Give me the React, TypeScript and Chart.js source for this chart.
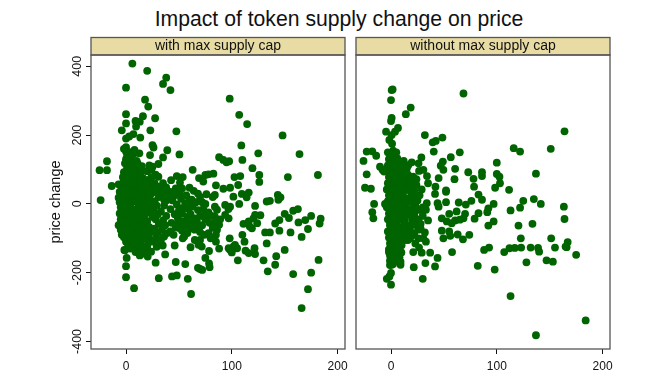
import React, { useEffect, useRef } from "react";
import { Chart, registerables } from "chart.js";

Chart.register(...registerables);

const chartTitle = "Impact of token supply change on price";
const panelTitles = ["with max supply cap", "without max supply cap"];
const yAxisTitle = "price change";
const xTicks = [0, 100, 200];
const yTicks = [-400, -200, 0, 200, 400];
const xRange = [-33.1, 207];
const yRange = [-422, 433];

const withCapPoints: [number, number][] = [
  [6,408],[20,387],[38,367],[35,349],[42,331],[0,338],[18,303],[21,283],[98,306],[107,259],[114.5,232],[148,199],
  [0,261],[16,255],[27.5,249],[0,234],[9,241],[13,239],[9.5,225],[-4,214],[23,214],[47.6,211],[7,203],[3,196],[0,190],[13.5,193],
  [25,171],[26,164],[109,170],[39,156],[0,165],[8,157],[0,152],[4,150],[12.6,147],[22.7,142],[50.5,144],[125,147],[164,145],
  [35,135],[88,136],[92,128],[95,121],[97.5,124],[110,128],[-18,124],[-25,98],[-18,98],[119.5,104],[30.6,116],[22,112],[25,108],
  [63,99],[69,75],[126,84],[153,78],[181.4,84],[126,64],[82.6,88],[78,86],[75,84],[73,65],[85,54],[108,81],[102.5,78],[106,55],
  [53.6,78],[48,81],[42.6,69],[51,62],[30.6,79],[13,96],[8.5,94],[-13.5,52],[-7,57],[60,47],[92,44],[98.4,47],
  [-24,11],[166,-303],[172,-248],[175,-200],[158,-204],[182,-163],[134,-196],[141,-177],[142,-152],[150,-134],[130,-164],[133,-115],
  [166,-96],[172,-73],[155.5,-83],[145,-78],[131.5,-83],[136,-83],[183,-57],[184,-43],[175,-35],[169.4,-47],[163,-54],[154,-41],[150,-29],
  [158,-20],[162.5,-15],[141,-57],[145,-47],[127,-33],[122,-6],[133,7],[136,9],[143.5,26],[146,19],[144,12],[107,0],[101.5,21],[109.5,29],[116,33],[114,19],
  [111,-58],[116,-51],[120.5,-42],[122,-32],[124,-56],[119,-71],[117,-66],[110,-90],[112,-110],[121.5,-129],[122,-146],[116,-143],[113,-136],[105.7,-164],
  [98,-100],[97,-129],[101.5,-124],[105,-129],[100,-141],[98.5,-134],[103,-119],[88,-130],[85,-110],[78.5,-137],[75,-157],[78.5,-173],[79,-184],
  [70,-189],[72,-192],[68,-186],[61.5,-262],[58.4,-218],[43.5,-211],[48,-208],[31,-216],[7.6,-245],[0,-213],[0,-181],[0.6,-157],[28,-171],[37,-147],[47,-169],[56,-175],
  [46,-121],[53.6,-100],[61,-126],[68.5,-119],[70,-105],[65,-105],[71.6,-124],[74,-90],[84,26],[93.7,-3],[98.4,-8],[96.8,-15],[86,-17],[89,-45],[97,-42],[93.7,-32],[84,-37],[86,-75],[88,-61],
  [34.7,-121],[20.5,-153],[23.7,-139],[17.3,-143],[6.3,-129],[-1.6,-134],[-6.3,-61],
  [-6,35],[-7,18],[-6,5],[-5,-10],[-6,-28],[-5,-45],[-7,-62],[-5,-75],[-4,-90],
  [0,130],[-1,118],[1,105],[-2,92],[0,80],[2,68],[-1,55],[1,42],[-2,30],[0,18],[2,5],[-1,-8],[1,-20],[-2,-33],[0,-47],[2,-60],[-1,-72],[1,-85],[-2,-97],[0,-110],[2,-122],[-1,-135],
  [5,135],[4,120],[6,108],[3,95],[5,82],[7,70],[4,58],[6,45],[3,33],[5,20],[7,8],[4,-5],[6,-18],[3,-30],[5,-42],[7,-55],[4,-68],[6,-80],[3,-93],[5,-105],[7,-118],[4,-130],
  [10,125],[9,112],[11,100],[8,85],[10,72],[12,60],[9,48],[11,35],[8,22],[10,10],[12,-3],[9,-15],[11,-28],[8,-40],[10,-52],[12,-65],[9,-78],[11,-90],[8,-102],[10,-115],[12,-127],[9,-140],[13,-150],
  [15,110],[14,92],[16,75],[13,62],[15,48],[17,35],[14,20],[16,8],[13,-8],[15,-20],[17,-35],[14,-48],[16,-60],[13,-73],[15,-88],[17,-100],[14,-112],[16,-125],[18,-135],[15,-145],
  [20,95],[24,100],[21,70],[23,55],[20,42],[24,30],[22,15],[19,3],[23,-10],[21,-25],[25,-38],[20,-52],[22,-68],[24,-82],[21,-97],[25,-110],[20,-125],
  [28,85],[27,60],[30,50],[28,35],[31,20],[27,8],[29,-5],[26,-18],[30,-30],[28,-45],[31,-58],[27,-72],[30,-85],[28,-100],[32,-110],[29,-125],
  [35,60],[37,35],[34,22],[38,10],[36,-5],[33,-22],[38,-35],[35,-48],[37,-62],[34,-75],[39,-85],[36,-95],[33,-105],
  [42,35],[46,25],[44,10],[48,-2],[42,-15],[46,-30],[49,-42],[43,-55],[47,-68],[42,-80],[45,-90],[50,-20],[49,-60],
  [53,45],[57,25],[52,15],[56,2],[59,-15],[53,-28],[58,-38],[52,-50],[56,-62],[60,-72],[53,-78],[58,-85],[55,-95],[59,-5],
  [64,38],[68,30],[62,12],[66,5],[70,20],[63,-8],[68,-18],[61,-30],[65,-42],[70,-35],[62,-55],[67,-50],[72,-62],[65,-75],[70,-82],[72,5],
  [76,28],[82,20],[75,0],[73,-15],[78,-25],[84,-8],[81,-35],[75,-45],[79,-55],[85,-50],[82,-70],[78,-85],[85,-90],[80,-100],[83,-65],
  [-3,60],[-4,45],[-3,12],[-3,-18],[-3,-52],[-3,-82],[3,150],[1,142],[-2,160],[7,145],[11,118],[4,102],[-3,78],[-2,42],
  [2,88],[7,92],[13,80],[6,58],[2,30],[8,35],[14,42],[18,58],[18,22],[13,28],[18,5],[2,-10],[7,-28],[18,-12],[12,-42],[18,-45],[3,-52],[8,-66],[18,-72],[14,-85],[2,-78],[7,-92],[19,-88],[13,-102],
  [24,78],[26,45],[22,32],[25,5],[21,-112],[32,40],[36,12],[38,48],[41,20],[47,45],[51,30],[50,-70],[54,-12],[57,-48],[60,10],[61,-62],[68,-68],[74,-35],
];

const withoutCapPoints: [number, number][] = [
  [0.6,331],[1.5,333],[0,302],[68.5,321],[18.6,280],[14,261],[0.6,250],[0,241],[6.6,221],[3.8,210],[-4.7,210],[0.6,200],[-1.6,186],[164,211],
  [32,200],[48.6,193],[39.4,179],[42.3,183],[40.4,152],[65,150],[56.5,136],[116,162],[122,152],[151,160],[-23,152],[-17.7,153],[-14,140],[-26,125],
  [28.7,135],[26,118],[19.6,121],[16.4,113],[15,104],[-10.4,108],[-8,99],[-6.6,94],[-23,86],[49,123],[47,111],[49.5,99],[60.6,102],[100,120],
  [73,92],[86,92],[86,81],[78,73],[60,72],[45,75],[100,87],[102.5,79],[103,60],[98.4,47],[78.5,50],[137,88],[42,50],[35,60],[34,81],[-24.6,47],[-19,44],[52,39],[111.6,41],
  [30.6,99],[26.5,96],[21,79],[15,70],[11.7,79],[41.6,29],[52,35],[82.7,27],[86,12],[-16,0],[-17.7,-24],[-16.7,-42],[-5.7,0],
  [44,2],[45,-8],[52,5],[64,4],[70.7,-2],[76,9],[97,0],[92,-13],[91,-24],[82.7,-27],[79,-43],[68.5,-42],[70,-29],[62,-22],[55,-29],[48,-42],[52.7,-51],[57.4,-56],[60.6,-48],[65,-46],
  [48,-78],[55,-80],[56,-93],[49.5,-100],[63,-89],[68,-103],[74,-90],[92,-63],[97,-51],[113,-19],[122,-11],[125,9],[135,14],[141.6,0],[163.4,-8],[164,-44],[120.5,-63],[133.7,-58],
  [122.7,-100],[151.4,-100],[167,-111],[166,-126],[165,-124],[155,-127],[132,-127],[139,-128],[140,-139],[123,-127],[117,-128],[112,-129],[107,-140],[92.7,-127],[88,-134],[175,-148],
  [147,-164],[153,-168],[128,-170],[82,-180],[98,-191],[57.7,-140],[113,-268],[184,-339],[137,-382],[30,-218],[21.5,-184],[32.5,-172],[41.6,-182],[44,-157],[37,-142],[26.5,-127],[29,-142],
  [-4,-218],[0,-201],[-1.5,-211],[0,-235],[9.8,-141],[9,-168],[9,-177],[0.6,-177],[32,-83],[30.6,-100],[33,-110],[35,-48],[33.8,2],[33,-17],
  [-3,150],[-2,130],[-3,112],[-4,95],[-2,78],[-3,60],[-4,42],[-2,25],[-3,8],[-4,-10],[-2,-28],[-3,-45],[-1,-62],[-3,-80],[-2,-98],[-1,-115],[-2,-132],[-1,-150],[-1,-165],
  [1,175],[2,155],[0,140],[3,122],[1,105],[2,88],[0,72],[3,55],[1,38],[2,20],[0,5],[3,-12],[1,-30],[2,-48],[0,-65],[3,-82],[1,-98],[2,-115],[0,-132],[3,-148],[1,-160],[2,-175],
  [5,150],[6,132],[4,115],[7,98],[5,80],[6,62],[4,45],[7,28],[5,12],[6,-5],[4,-22],[7,-40],[5,-58],[6,-75],[4,-92],[7,-108],[5,-125],[6,-142],[8,-155],[5,-165],
  [10,110],[12,125],[9,90],[11,72],[13,55],[10,38],[12,20],[9,5],[11,-12],[13,-28],[10,-45],[12,-62],[9,-80],[11,-95],[13,-105],[10,-120],
  [16,85],[18,58],[15,45],[19,30],[17,15],[14,0],[18,-15],[16,-32],[20,-48],[15,-62],[18,-78],[14,-88],[20,-92],[16,-105],
  [24,55],[22,38],[27,25],[25,10],[29,42],[23,-5],[28,-18],[22,-30],[26,-45],[30,-35],[24,-62],[28,-72],[22,-85],[28,-58],[30,-10],[26,-100],[23,-115],[21,-140],
  [0,118],[2,128],[-1,100],[3,70],[-1,50],[1,30],[-1,12],[4,2],[1,-5],[-1,-20],[4,-35],[-1,-52],[4,-70],[-1,-88],[4,-105],[1,-122],[-2,-140],[4,-150],[1,-170],[-1,-178],
  [7,115],[8,72],[8,50],[3,40],[8,18],[8,-12],[9,-30],[3,-58],[8,-70],[9,-90],[8,-112],[3,-125],[7,-130],[2,-140],[6,-160],[9,100],[12,88],[13,40],[6,40],[13,10],[14,-15],[13,-45],[12,-75],
  [20,62],[24,72],[18,40],[22,22],[20,5],[24,-18],[20,-35],[19,-62],[26,-75],[18,-100],
];

const FONT = '"Liberation Sans", Arial, sans-serif';
const GREEN = "#006400";
const STRIP = "#E8DCA4";
const FRAME = "#555555";
const STRIP_TOP = 37.5;

const framePlugin = {
  id: "panelFrame",
  beforeDraw(chart: any) {
    const { ctx, chartArea: a } = chart;
    ctx.save();
    ctx.fillStyle = STRIP;
    ctx.fillRect(a.left, STRIP_TOP, a.right - a.left, a.top - STRIP_TOP);
    ctx.restore();
  },
  afterDraw(chart: any) {
    const { ctx, chartArea: a } = chart;
    ctx.save();
    ctx.strokeStyle = FRAME;
    ctx.lineWidth = 1.3;
    ctx.strokeRect(a.left, STRIP_TOP, a.right - a.left, a.top - STRIP_TOP);
    ctx.strokeRect(a.left, a.top, a.right - a.left, a.bottom - a.top);
    ctx.restore();
  },
};

function makeChart(
  canvas: HTMLCanvasElement,
  points: [number, number][],
  title: string,
  showY: boolean,
  padding: { left: number; right: number },
  yWidth: number,
) {
  return new Chart(canvas, {
    type: "scatter",
    data: {
      datasets: [
        {
          data: points.map(([x, y]) => ({ x, y })),
          backgroundColor: GREEN,
          borderColor: GREEN,
          pointRadius: 3.9,
          pointBorderWidth: 0,
        },
      ],
    },
    plugins: [framePlugin],
    options: {
      animation: false,
      responsive: false,
      clip: false,
      layout: { padding: { left: padding.left, right: padding.right, top: 0, bottom: 0 } },
      plugins: {
        legend: { display: false },
        tooltip: { enabled: false },
        title: {
          display: true,
          text: title,
          color: "#111111",
          font: { family: FONT, size: 14, weight: "normal", lineHeight: 1.2 },
          padding: { top: 38.2, bottom: 0 },
          fullSize: false,
        },
      },
      scales: {
        x: {
          type: "linear",
          min: xRange[0],
          max: xRange[1],
          afterBuildTicks: (s: any) => { s.ticks = xTicks.map((value) => ({ value })); },
          afterFit: (s: any) => {
            s.height = 29;
            s.paddingLeft = 0;
            s.paddingRight = 0;
          },
          grid: { display: true, drawOnChartArea: false, drawTicks: true, tickLength: 5, tickColor: "#111111", tickWidth: 1 },
          border: { display: false },
          ticks: {
            color: "#111111",
            font: { family: FONT, size: 12 },
            maxRotation: 0,
            padding: 5,
          },
        },
        y: {
          type: "linear",
          display: showY,
          min: yRange[0],
          max: yRange[1],
          afterBuildTicks: (s: any) => { s.ticks = yTicks.map((value) => ({ value })); },
          afterFit: (s: any) => { s.width = yWidth; },
          title: {
            display: true,
            text: yAxisTitle,
            color: "#111111",
            font: { family: FONT, size: 14.5 },
            padding: { top: 0, bottom: 0 },
          },
          grid: { display: true, drawOnChartArea: false, drawTicks: true, tickLength: 5, tickColor: "#111111", tickWidth: 1 },
          border: { display: false },
          ticks: {
            color: "#111111",
            font: { family: FONT, size: 12.5 },
            minRotation: 90,
            maxRotation: 90,
            crossAlign: "center",
            padding: -4,
          },
        },
      },
    } as any,
  });
}

export default function App() {
  const leftRef = useRef<HTMLCanvasElement>(null);
  const rightRef = useRef<HTMLCanvasElement>(null);

  useEffect(() => {
    document.body.style.margin = "0";
    const left = makeChart(leftRef.current!, withCapPoints, panelTitles[0], true, { left: 47, right: 5 }, 44);
    const right = makeChart(rightRef.current!, withoutCapPoints, panelTitles[1], false, { left: 6, right: 61 }, 0);
    return () => {
      left.destroy();
      right.destroy();
    };
  }, []);

  return (
    <div style={{ position: "relative", width: 671, height: 378, overflow: "hidden", background: "#fff" }}>
      <div
        style={{
          position: "absolute",
          left: 0,
          top: 6,
          width: 678,
          textAlign: "center",
          fontFamily: FONT,
          fontSize: 21.2,
          lineHeight: "26px",
          color: "#111",
        }}
      >
        {chartTitle}
      </div>
      <canvas ref={leftRef} width={350} height={378} style={{ position: "absolute", left: 0, top: 0 }} />
      <canvas ref={rightRef} width={321} height={378} style={{ position: "absolute", left: 350, top: 0 }} />
    </div>
  );
}
